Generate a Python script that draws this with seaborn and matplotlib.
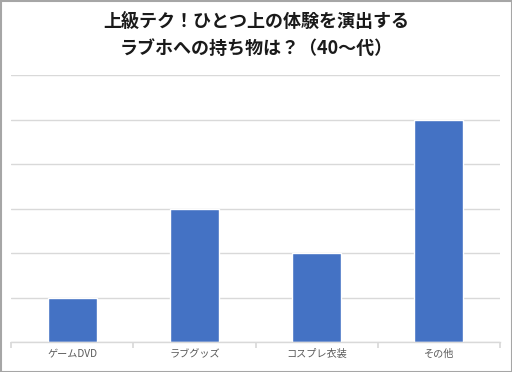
import matplotlib
matplotlib.use("Agg")
import matplotlib.pyplot as plt
import seaborn as sns
import pandas as pd
from matplotlib.patches import Rectangle

categories = ["ゲームDVD", "ラブグッズ", "コスプレ衣装", "その他"]
values = [1, 3, 2, 5]
title = "上級テク！ひとつ上の体験を演出する\nラブホへの持ち物は？（40～代）"

sns.set_theme(style="white")
plt.rcParams['font.family'] = ['Noto Sans CJK JP', 'DejaVu Sans']

df = pd.DataFrame({"cat": categories, "val": values})

fig = plt.figure(figsize=(5.12, 3.72), dpi=100)
ax = fig.add_axes([11/512, 30/372, 489/512, 267/372])
sns.barplot(data=df, x="cat", y="val", color="#4472C4", saturation=1, width=0.4, ax=ax)
ax.set_ylim(0, 6)
ax.set_xlim(-0.5, 3.5)
ax.set_yticks(range(0, 7))
ax.yaxis.grid(True, color="#d9d9d9", linewidth=1)
ax.set_axisbelow(True)
ax.set_yticklabels([])
ax.tick_params(axis='y', length=0)
ax.set_xlabel("")
ax.set_ylabel("")
for s in ["top", "right", "left"]:
    ax.spines[s].set_visible(False)
ax.spines["bottom"].set_color("#d9d9d9")
ax.spines["bottom"].set_linewidth(1)
ax.set_xticks([-0.5, 0.5, 1.5, 2.5, 3.5], minor=False)
ax.set_xticklabels([])
ax.tick_params(axis='x', which='major', length=4, color="#d9d9d9", bottom=True, direction='out')
ax.set_xticks(range(len(categories)), minor=True)
ax.set_xticklabels(categories, minor=True, fontsize=7.3, color="#595959")
ax.tick_params(axis='x', which='minor', length=0, pad=5)

fig.text(0.5, 0.968, title, ha="center", va="top", fontsize=13, fontweight="bold",
         color="#1a1a1a", linespacing=1.55)
fig.patches.append(Rectangle((0.5/512, 0.5/372), 511/512, 371/372, transform=fig.transFigure,
                             fill=False, edgecolor="#a6a6a6", linewidth=1.5))
fig.savefig("out.png", dpi=100)
